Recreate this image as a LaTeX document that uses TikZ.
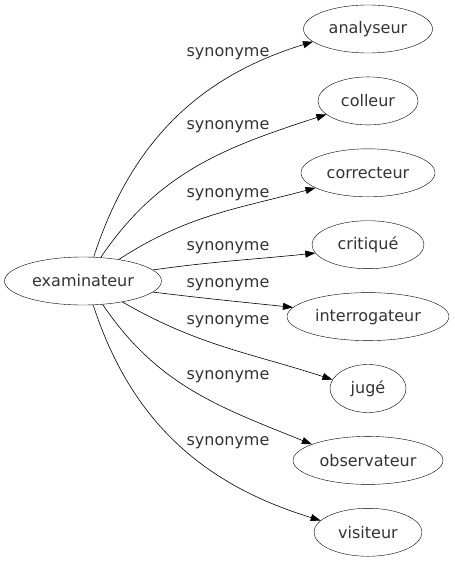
\documentclass[tikz,border=0pt]{standalone}
\usepackage{fontspec}
\setmainfont{DejaVu Sans}
\usetikzlibrary{shapes.geometric,arrows.meta}

\begin{document}
\begin{tikzpicture}[x=1pt, y=1pt,
  syn/.style={draw, ellipse, inner sep=0pt, minimum height=48pt, font=\fontsize{16}{19}\selectfont, text=black!80},
  lab/.style={font=\fontsize{16}{19}\selectfont, text=black!80, inner sep=0pt},
  link/.style={-{Triangle[length=10pt, width=7pt]}, line width=0.6pt}]
\useasboundingbox (0,0) rectangle (455,-563);

% centre word
\node[syn, minimum width=157pt] (ex) at (83,-281) {examinateur};

%% synonyms, one row every 72px
\foreach \name/\word/\wid/\row in {an/analyseur/129/0, co/colleur/100/1,
  cr/correcteur/134/2, ct/critiqué/112/3, in/interrogateur/162/4,
  ju/jugé/76/5, ob/observateur/150/6, vi/visiteur/108/7}
  {
  \node[syn, minimum width=\wid pt] (\name) at (368,-29-71.9*\row) {\word};
  }

% edges (start angle on ex / end angle / out / in)
\foreach \name/\from/\to/\o/\i in {an/66/193/72/197, co/53/198/56/198,
  cr/31/196/33/195, ct/9/189/8/186, in/-9/173/-7/174,
  ju/-28/166/-30/162, ob/-50/164/-56/158, vi/-67/166/-72/163}
  {
  \draw[link] (ex.\from) to[out=\o, in=\i] (\name.\to);
  }

% labels
\foreach \y in {54,127,195,248,285,322,377,443}
  {
  \node[lab] (l\y) at (228,-\y) {synonyme};
  }

\end{tikzpicture}
\end{document}
